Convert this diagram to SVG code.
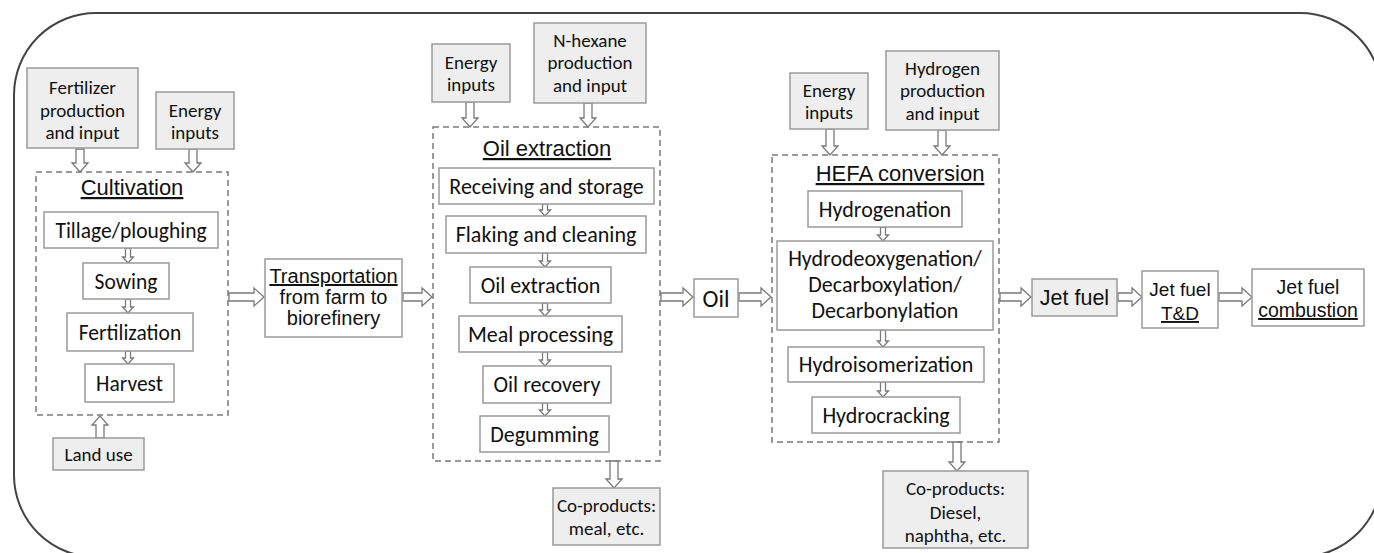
<svg xmlns="http://www.w3.org/2000/svg" width="1374" height="553" viewBox="0 0 1374 553">
<style>
.bx{fill:#ffffff;stroke:#9a9a9a;stroke-width:1.5}
.gb{fill:#eeeeee;stroke:#9a9a9a;stroke-width:1.5}
.dash{fill:none;stroke:#7a7a7a;stroke-width:1.5;stroke-dasharray:6 4}
.ar{fill:#ffffff;stroke:#7a7a7a;stroke-width:1.3;stroke-linejoin:miter}
.t{font-family:Carlito,Lato,sans-serif;fill:#111;text-anchor:middle}
.s19{font-size:19px}
.s22{font-size:22px}
.a{font-family:"Liberation Sans",Arial,sans-serif;fill:#111;text-anchor:middle}
.u{text-decoration:underline}
</style>
<rect x="14" y="13" width="1368" height="544" rx="82" ry="82" fill="none" stroke="#444" stroke-width="2"/>

<g id="connectors">
<path class="ar" d="M229,293 H254 V288 L264,297 L254,306 V301 H229 Z"/>
<path class="ar" d="M403,293 H422 V288 L432,297 L422,306 V301 H403 Z"/>
<path class="ar" d="M661,293 H683 V288 L693,297 L683,306 V301 H661 Z"/>
<path class="ar" d="M739,293 H761 V288 L771,297 L761,306 V301 H739 Z"/>
<path class="ar" d="M1000,293 H1021 V288 L1031,297 L1021,306 V301 H1000 Z"/>
<path class="ar" d="M1118,293 H1132 V288 L1142,297 L1132,306 V301 H1118 Z"/>
<path class="ar" d="M1219,293 H1242 V288 L1252,297 L1242,306 V301 H1219 Z"/>
<path class="ar" d="M76,149 V163 H72 L80,172 L88,163 H84 V149 Z"/>
<path class="ar" d="M189,149 V163 H185 L193,172 L201,163 H197 V149 Z"/>
<path class="ar" d="M466,102 V118 H462 L470,127 L478,118 H474 V102 Z"/>
<path class="ar" d="M584,103 V118 H580 L588,127 L596,118 H592 V103 Z"/>
<path class="ar" d="M826,129 V146 H822 L830,155 L838,146 H834 V129 Z"/>
<path class="ar" d="M938,130 V146 H934 L942,155 L950,146 H946 V130 Z"/>
<path class="ar" d="M610,461 V479 H606 L614,488 L622,479 H618 V461 Z"/>
<path class="ar" d="M953,442 V462 H949 L957,471 L965,462 H961 V442 Z"/>
<path class="ar" d="M96,438 V425 H92 L100,416 L108,425 H104 V438 Z"/>
<path class="ar" d="M125.5,248 V257 H122.5 L128,263 L133.5,257 H130.5 V248 Z"/>
<path class="ar" d="M125.5,299 V307 H122.5 L128,313 L133.5,307 H130.5 V299 Z"/>
<path class="ar" d="M125.5,351 V358 H122.5 L128,364 L133.5,358 H130.5 V351 Z"/>
<path class="ar" d="M542.5,204 V210 H539.5 L545,216 L550.5,210 H547.5 V204 Z"/>
<path class="ar" d="M542.5,253 V261 H539.5 L545,267 L550.5,261 H547.5 V253 Z"/>
<path class="ar" d="M542.5,303 V310 H539.5 L545,316 L550.5,310 H547.5 V303 Z"/>
<path class="ar" d="M542.5,352 V360 H539.5 L545,366 L550.5,360 H547.5 V352 Z"/>
<path class="ar" d="M542.5,403 V410 H539.5 L545,416 L550.5,410 H547.5 V403 Z"/>
<path class="ar" d="M880.5,227 V235 H877.5 L883,241 L888.5,235 H885.5 V227 Z"/>
<path class="ar" d="M880.5,330 V341 H877.5 L883,347 L888.5,341 H885.5 V330 Z"/>
<path class="ar" d="M880.5,382 V391 H877.5 L883,397 L888.5,391 H885.5 V382 Z"/>
</g>

<g id="fertilizer-input">
<rect class="gb" x="27" y="68" width="111" height="80"/>
<text class="t s19" x="82.5" y="93.5">Fertilizer</text>
<text class="t s19" x="82.5" y="116.5">production</text>
<text class="t s19" x="82.5" y="138.5">and input</text>
</g>
<g id="energy-cultivation">
<rect class="gb" x="156" y="92" width="78" height="57"/>
<text class="t s19" x="195" y="116.5">Energy</text>
<text class="t s19" x="195" y="138.5">inputs</text>
</g>
<g id="cultivation">
<rect class="dash" x="36" y="172" width="192" height="243"/>
<text class="a u" x="132" y="195" font-size="22">Cultivation</text>
</g>
<g id="tillage"><rect class="bx" x="44" y="212" width="174" height="36"/><text class="t" x="131" y="237.5" font-size="21.5">Tillage/ploughing</text></g>
<g id="sowing"><rect class="bx" x="83" y="263" width="86" height="36"/><text class="t" x="126" y="288.5" font-size="21.5">Sowing</text></g>
<g id="fertilization"><rect class="bx" x="67" y="313" width="126" height="38"/><text class="t" x="130" y="339.5" font-size="21.5">Fertilization</text></g>
<g id="harvest"><rect class="bx" x="85" y="364" width="89" height="38"/><text class="t" x="129.5" y="390.5" font-size="21.5">Harvest</text></g>
<g id="land-use"><rect class="gb" x="53" y="438" width="91" height="32"/><text class="t s19" x="98.5" y="460.5">Land use</text></g>

<g id="transportation">
<rect class="bx" x="265" y="259" width="137" height="78"/>
<text class="a u" x="333.5" y="283" font-size="20">Transportation</text>
<text class="a" x="333.5" y="304" font-size="20">from farm to</text>
<text class="a" x="333.5" y="325" font-size="20">biorefinery</text>
</g>

<g id="energy-oil">
<rect class="gb" x="432" y="44" width="78" height="58"/>
<text class="t s19" x="471" y="68.5">Energy</text>
<text class="t s19" x="471" y="90.5">inputs</text>
</g>
<g id="nhexane-input">
<rect class="gb" x="534" y="23" width="112" height="80"/>
<text class="t s19" x="590" y="46.5">N-hexane</text>
<text class="t s19" x="590" y="68.5">production</text>
<text class="t s19" x="590" y="91.5">and input</text>
</g>
<g id="oil-extraction">
<rect class="dash" x="433" y="127" width="227" height="334"/>
<text class="a u" x="547" y="156" font-size="22">Oil extraction</text>
</g>
<g id="receiving"><rect class="bx" x="439" y="168" width="215" height="36"/><text class="t s22" x="546.5" y="193.5">Receiving and storage</text></g>
<g id="flaking"><rect class="bx" x="446" y="216" width="200" height="37"/><text class="t s22" x="546" y="242">Flaking and cleaning</text></g>
<g id="oil-extraction-step"><rect class="bx" x="470" y="267" width="141" height="36"/><text class="t s22" x="540.5" y="292.5">Oil extraction</text></g>
<g id="meal-processing"><rect class="bx" x="459" y="316" width="163" height="36"/><text class="t s22" x="540.5" y="341.5">Meal processing</text></g>
<g id="oil-recovery"><rect class="bx" x="483" y="366" width="128" height="37"/><text class="t s22" x="547" y="392">Oil recovery</text></g>
<g id="degumming"><rect class="bx" x="480" y="416" width="129" height="36"/><text class="t s22" x="544.5" y="441.5">Degumming</text></g>
<g id="coproducts-meal">
<rect class="gb" x="553" y="488" width="107" height="57"/>
<text class="t s19" x="606.5" y="511.5">Co-products:</text>
<text class="t s19" x="606.5" y="534.5">meal, etc.</text>
</g>

<g id="oil"><rect class="bx" x="694" y="279" width="44" height="38"/><text class="t" x="716" y="306.5" font-size="24">Oil</text></g>

<g id="energy-hefa">
<rect class="gb" x="790" y="73" width="78" height="56"/>
<text class="t s19" x="829" y="96.5">Energy</text>
<text class="t s19" x="829" y="118.5">inputs</text>
</g>
<g id="hydrogen-input">
<rect class="gb" x="886" y="51" width="113" height="79"/>
<text class="t s19" x="942.5" y="74.5">Hydrogen</text>
<text class="t s19" x="942.5" y="96.5">production</text>
<text class="t s19" x="942.5" y="119.5">and input</text>
</g>
<g id="hefa-conversion">
<rect class="dash" x="772" y="155" width="227" height="287"/>
<text class="a u" x="900" y="181" font-size="22">HEFA conversion</text>
</g>
<g id="hydrogenation"><rect class="bx" x="808" y="191" width="154" height="36"/><text class="t s22" x="885" y="216.5">Hydrogenation</text></g>
<g id="hydrodeoxygenation">
<rect class="bx" x="777" y="241" width="216" height="89"/>
<text class="t s22" x="885" y="265.5">Hydrodeoxygenation/</text>
<text class="t s22" x="885" y="291.5">Decarboxylation/</text>
<text class="t s22" x="885" y="317.5">Decarbonylation</text>
</g>
<g id="hydroisomerization"><rect class="bx" x="788" y="347" width="196" height="35"/><text class="t s22" x="886" y="372">Hydroisomerization</text></g>
<g id="hydrocracking"><rect class="bx" x="812" y="397" width="148" height="36"/><text class="t s22" x="886" y="422.5">Hydrocracking</text></g>
<g id="coproducts-diesel">
<rect class="gb" x="883" y="471" width="145" height="77"/>
<text class="t s19" x="955.5" y="494.5">Co-products:</text>
<text class="t s19" x="955.5" y="518.5">Diesel,</text>
<text class="t s19" x="955.5" y="541.5">naphtha, etc.</text>
</g>

<g id="jet-fuel"><rect class="gb" x="1032" y="279" width="85" height="37"/><text class="a" x="1074.5" y="305" font-size="21.5">Jet fuel</text></g>
<g id="jet-fuel-td">
<rect class="bx" x="1142" y="271" width="76" height="57"/>
<text class="a" x="1180" y="296" font-size="19">Jet fuel</text>
<text class="a u" x="1180" y="320" font-size="19">T&amp;D</text>
</g>
<g id="jet-fuel-combustion">
<rect class="bx" x="1252" y="269" width="112" height="57"/>
<text class="a" x="1308" y="294" font-size="19.5">Jet fuel</text>
<text class="a u" x="1308" y="317" font-size="19.5">combustion</text>
</g>
</svg>
